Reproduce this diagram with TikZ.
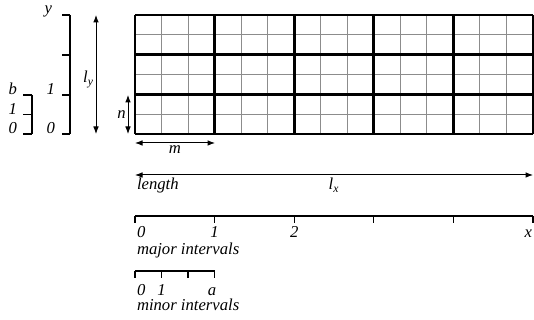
\documentclass[tikz,border=0pt]{standalone}
\usepackage{fontspec}
\setmainfont{Liberation Serif}
\usetikzlibrary{arrows.meta}

\begin{document}
\begin{tikzpicture}[
  x=0.6pt, y=-0.6pt,
  >={Latex[length=4.5pt,width=3.4pt]},
  lbl/.style={font=\itshape, inner sep=1pt},
  minorline/.style={draw=black!45, line width=0.6pt},
  majorline/.style={draw=black, line width=1.6pt},
  scaleline/.style={line width=0.7pt},
  dim/.style={<->, line width=0.6pt}
]
\useasboundingbox (0,0) rectangle (534,320);

% grid of cells
\foreach \i in {0,...,15}
  \draw[minorline] ({135+\i*398/15},15) -- ++(0,119);
\foreach \j in {0,...,6}
  \draw[minorline] (135,{15+\j*119/6}) -- ++(398,0);
\foreach \i in {0,...,5}
  \draw[majorline] ({135+\i*398/5},15) -- ++(0,119);
\foreach \j in {0,...,3}
  \draw[majorline] (135,{15+\j*119/3}) -- ++(398,0);
\coordinate (grid-nw) at (135,15);
\coordinate (grid-se) at (533,134);

% vertical scales
\draw[scaleline] (70,15) coordinate (ys-top) -- (70,134) coordinate (ys-bot);
\foreach \t in {15,55,95,134}
  \draw[scaleline] (62,\t) -- (70,\t);
\node[lbl, anchor=base east] (ylab-y) at (54,14) {y};
\node[lbl, anchor=base east] (ylab-1) at (57,95) {1};
\node[lbl, anchor=base east] (ylab-0) at (57,134) {0};

\draw[scaleline] (32,95) coordinate (bs-top) -- (32,134) coordinate (bs-bot);
\foreach \t in {95,114.5,134}
  \draw[scaleline] (23,\t) -- (32,\t);
\node[lbl, anchor=base east] (blab-b) at (19,95) {b};
\node[lbl, anchor=base east] (blab-1) at (19,114.5) {1};
\node[lbl, anchor=base east] (blab-0) at (19,134) {0};

% dimension arrows
\coordinate (ly-top) at (96,15);
\coordinate (ly-bot) at (96,134);
\draw[dim] (ly-top) -- node[lbl, left, yshift=-3pt] (ly) {l\textsubscript{y}} (ly-bot);
\coordinate (n-top) at (128,95);
\coordinate (n-bot) at (128,134);
\draw[dim] (n-top) -- node[lbl, left] (n) {n} (n-bot);
\coordinate (m-left) at (135,143);
\coordinate (m-right) at (215,143);
\draw[dim] (m-left) -- node[lbl, below] (m) {m} (m-right);

\coordinate (lx-left) at (135,175);
\coordinate (lx-right) at (533,175);
\draw[dim] (lx-left) -- (lx-right);
\node[lbl, anchor=base west] (length) at (135,190) {length};
\node[lbl, anchor=base] (lx) at (334,190) {l\textsubscript{x}};

% major intervals
\draw[scaleline] (135,216) coordinate (maj-left) -- (533,216) coordinate (maj-right);
\foreach \i in {0,...,5}
  \draw[scaleline] ({135+\i*398/5},216) -- ++(0,7);
\node[lbl, anchor=base west] (maj-0) at (135,238) {0};
\node[lbl, anchor=base] (maj-1) at (214.6,238) {1};
\node[lbl, anchor=base] (maj-2) at (294.2,238) {2};
\node[lbl, anchor=base east] (maj-x) at (534,238) {x};
\node[lbl, anchor=base west] (maj-txt) at (135,255) {major intervals};

% minor intervals
\draw[scaleline] (135,271) coordinate (min-left) -- (214.6,271) coordinate (min-right);
\foreach \i in {0,...,3}
  \draw[scaleline] ({135+\i*79.6/3},271) -- ++(0,7);
\node[lbl, anchor=base west] (min-0) at (135,296) {0};
\node[lbl, anchor=base] (min-1) at (161.5,296) {1};
\node[lbl, anchor=base] (min-a) at (212,296) {a};
\node[lbl, anchor=base west] (min-txt) at (135,311) {minor intervals};
\end{tikzpicture}
\end{document}
